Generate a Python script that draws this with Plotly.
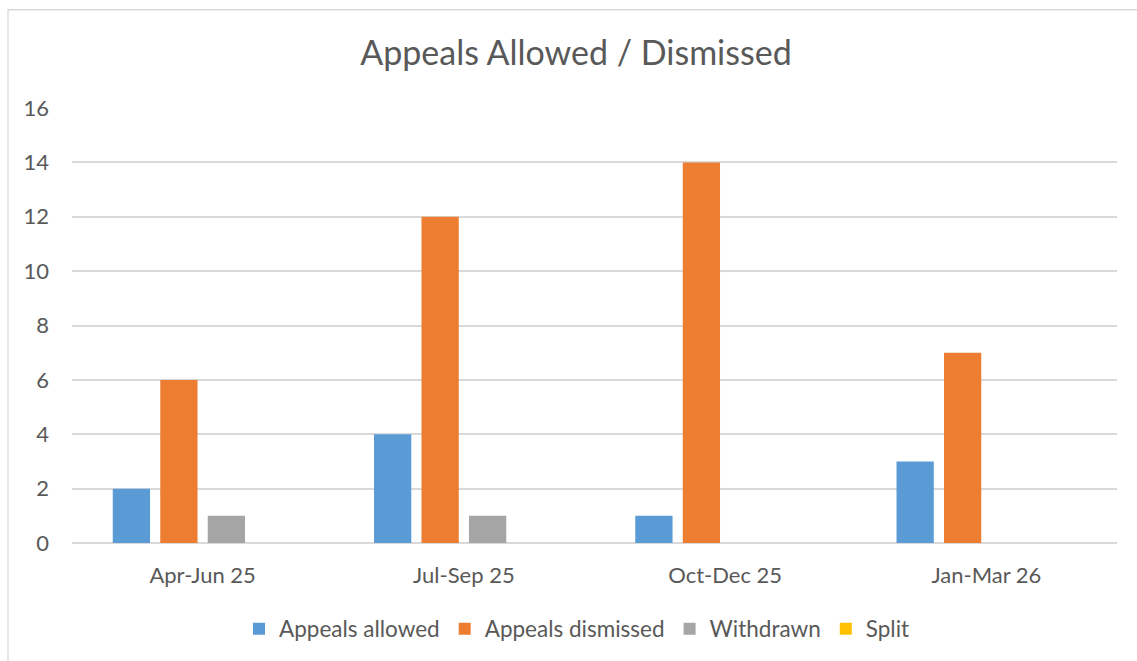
import plotly.graph_objects as go

# Quarterly appeal outcomes
quarters = ["Apr-Jun 25", "Jul-Sep 25", "Oct-Dec 25", "Jan-Mar 26"]
appeals_allowed = [2, 4, 1, 3]
appeals_dismissed = [6, 12, 14, 7]
withdrawn = [1, 1, 0, 0]
split = [0, 0, 0, 0]

series = [
    ("Appeals allowed", appeals_allowed, "#5B9BD5"),
    ("Appeals dismissed", appeals_dismissed, "#ED7D31"),
    ("Withdrawn", withdrawn, "#A5A5A5"),
    ("Split", split, "#FFC000"),
]

FONT = "Lato, Calibri, Carlito, sans-serif"
TEXT = "#595959"
GRID = "#D9D9D9"

fig = go.Figure()
for name, values, color in series:
    fig.add_trace(go.Bar(
        name=name, x=quarters, y=values,
        marker=dict(color=color, line=dict(width=0)),
    ))

W, H = 1137, 661
ml, mr, mt, mb = 72, 20, 108, 117
pw, ph = W - ml - mr, H - mt - mb


def px_x(p):
    return (p - ml) / pw


def px_y(p):
    return (H - mb - p) / ph


fig.update_layout(
    width=W, height=H,
    margin=dict(l=ml, r=mr, t=mt, b=mb, pad=0),
    paper_bgcolor="white", plot_bgcolor="white",
    barmode="group", bargap=0.273, bargroupgap=0.215,
    font=dict(family=FONT, color=TEXT, size=22),
    title=dict(
        text="Appeals Allowed / Dismissed",
        x=576 / W, xanchor="center", xref="container",
        y=1 - 53 / H, yanchor="middle", yref="container",
        font=dict(family=FONT, size=34, color=TEXT),
    ),
    xaxis=dict(
        showgrid=False, showline=False, zeroline=False,
        ticks="", ticklabelstandoff=17,
        tickfont=dict(size=22, color=TEXT),
    ),
    yaxis=dict(
        range=[0, 16], dtick=2, showgrid=True, gridcolor=GRID, gridwidth=1.75,
        zeroline=True, zerolinecolor=GRID, zerolinewidth=1.75,
        showline=False, ticks="", ticklabelstandoff=22,
        tickfont=dict(size=22, color=TEXT),
    ),
    legend=dict(
        orientation="h", x=px_x(239), xanchor="left",
        y=px_y(629), yanchor="middle",
        font=dict(size=22.5, color=TEXT), bgcolor="rgba(0,0,0,0)",
        itemclick=False,
    ),
    shapes=[dict(
        type="rect", xref="paper", yref="paper",
        x0=px_x(8), x1=px_x(W + 10), y0=px_y(H + 10), y1=px_y(9.5),
        line=dict(color=GRID, width=1.3), fillcolor="rgba(0,0,0,0)", layer="below",
    )],
)

fig.write_html("out.html")
